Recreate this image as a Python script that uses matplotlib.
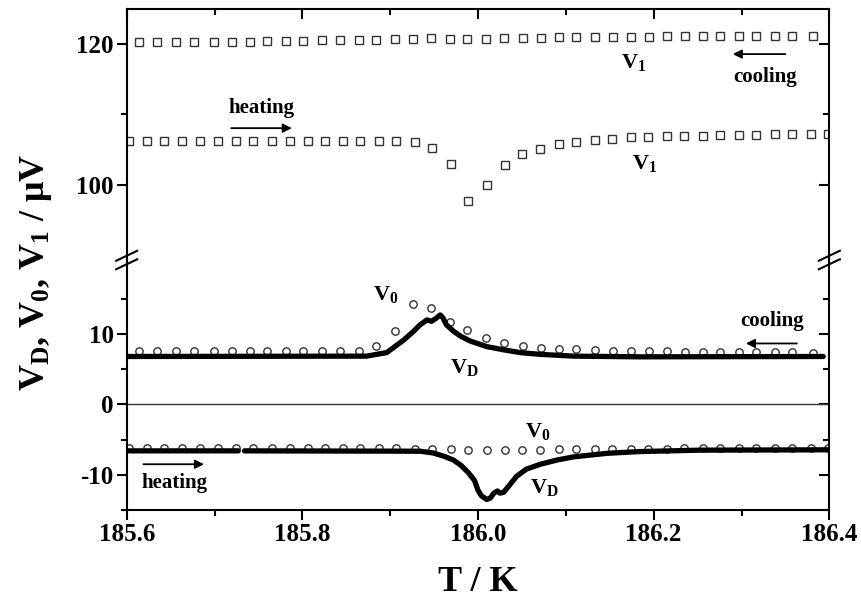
import numpy as np
import matplotlib
matplotlib.use('Agg')
import matplotlib.pyplot as plt
from matplotlib.ticker import FixedLocator

# temperatures of the V1 / V0 points (cooling run and heating run)
T_cool = [185.614, 185.635, 185.656, 185.677, 185.699, 185.720, 185.740, 185.760, 185.781, 185.801,
          185.822, 185.843, 185.864, 185.884, 185.905, 185.926, 185.947, 185.968, 185.988, 186.009,
          186.030, 186.051, 186.072, 186.092, 186.112, 186.133, 186.154, 186.174, 186.195, 186.215,
          186.236, 186.256, 186.276, 186.297, 186.317, 186.338, 186.358, 186.381]
V1_cool = [120.15, 120.15, 120.15, 120.2, 120.25, 120.25, 120.25, 120.3, 120.4, 120.4,
           120.45, 120.45, 120.45, 120.5, 120.6, 120.7, 120.75, 120.7, 120.7, 120.7,
           120.75, 120.8, 120.85, 120.9, 120.9, 120.9, 120.95, 120.95, 120.95, 121.0,
           121.0, 121.0, 121.0, 121.0, 121.0, 121.0, 121.0, 121.0]
V0_cool = [7.6, 7.6, 7.6, 7.6, 7.6, 7.6, 7.6, 7.6, 7.6, 7.6,
           7.6, 7.6, 7.6, 8.3, 10.4, 14.3, 13.7, 11.7, 10.5, 9.45,
           8.7, 8.3, 8.0, 7.9, 7.8, 7.7, 7.65, 7.6, 7.55, 7.55,
           7.5, 7.5, 7.5, 7.5, 7.45, 7.4, 7.4, 7.35]

T_heat = [185.603, 185.623, 185.643, 185.663, 185.683, 185.704, 185.724, 185.744, 185.765, 185.786,
          185.806, 185.826, 185.846, 185.866, 185.887, 185.907, 185.928, 185.948, 185.969, 185.989,
          186.010, 186.031, 186.050, 186.071, 186.092, 186.112, 186.133, 186.153, 186.174, 186.194,
          186.215, 186.235, 186.256, 186.276, 186.297, 186.317, 186.338, 186.358, 186.379, 186.399]
V1_heat = [106.2, 106.2, 106.2, 106.2, 106.2, 106.2, 106.2, 106.2, 106.2, 106.2,
           106.2, 106.2, 106.2, 106.2, 106.2, 106.2, 106.0, 105.2, 102.9, 97.7,
           99.9, 102.8, 104.3, 105.0, 105.8, 106.1, 106.3, 106.5, 106.7, 106.8,
           106.85, 106.9, 106.95, 107.0, 107.0, 107.05, 107.1, 107.1, 107.1, 107.2]
V0_heat = [-6.25, -6.25, -6.25, -6.25, -6.25, -6.25, -6.25, -6.25, -6.25, -6.25,
           -6.25, -6.25, -6.25, -6.25, -6.25, -6.25, -6.3, -6.35, -6.4, -6.45,
           -6.45, -6.45, -6.45, -6.45, -6.4, -6.4, -6.35, -6.35, -6.3, -6.3,
           -6.3, -6.25, -6.25, -6.25, -6.2, -6.2, -6.2, -6.2, -6.2, -6.2]

# V_D traces (dense curves, read at key points)
TD_cool = [185.600, 185.873, 185.896, 185.915, 185.926, 185.934, 185.942, 185.947, 185.952, 185.957,
           185.960, 185.964, 185.972, 185.980, 185.991, 186.010, 186.029, 186.048, 186.071, 186.109,
           186.184, 186.393]
VD_cool = [6.8, 6.85, 7.35, 9.1, 10.3, 11.3, 12.0, 11.8, 12.2, 12.7,
           12.3, 11.3, 10.4, 9.7, 9.0, 8.2, 7.75, 7.35, 7.1, 6.85,
           6.75, 6.8]
TD_heat = [185.600, 185.727, 185.730, 185.734, 185.934, 185.949, 185.962, 185.972, 185.981, 185.989,
           185.996, 186.000, 186.004, 186.010, 186.014, 186.018, 186.022, 186.025, 186.029, 186.035,
           186.044, 186.055, 186.071, 186.090, 186.109, 186.147, 186.184, 186.253, 186.399]
VD_heat = [-6.6, -6.6, np.nan, -6.6, -6.65, -6.9, -7.4, -7.9, -8.7, -9.7,
           -10.8, -12.2, -13.0, -13.5, -13.3, -12.6, -12.3, -12.6, -12.5, -11.6,
           -10.2, -9.2, -8.5, -7.9, -7.45, -6.95, -6.7, -6.5, -6.45]

x_ticks = [185.6, 185.8, 186.0, 186.2, 186.4]
x_ticklabels = ['185.6', '185.8', '186.0', '186.2', '186.4']

plt.rcParams['font.family'] = 'Liberation Serif'
plt.rcParams['font.weight'] = 'bold'
plt.rcParams['axes.labelweight'] = 'bold'
plt.rcParams['mathtext.fontset'] = 'custom'
plt.rcParams['mathtext.rm'] = 'Liberation Serif:bold'
plt.rcParams['mathtext.it'] = 'Liberation Serif:bold'
plt.rcParams['mathtext.bf'] = 'Liberation Serif:bold'
plt.rcParams['axes.unicode_minus'] = False
plt.rcParams['axes.linewidth'] = 1.5

fig = plt.figure(figsize=(8.62, 6.02), dpi=100)
ax_top = fig.add_axes([0.1470, 0.5681, 0.8151, 0.4164])
ax_bot = fig.add_axes([0.1470, 0.1528, 0.8151, 0.4153])

mk = dict(linestyle='none', markerfacecolor='none', markeredgecolor='#333333', markersize=5.3, markeredgewidth=1.0)
ax_top.plot(T_cool, V1_cool, marker='s', **mk)
ax_top.plot(T_heat, V1_heat, marker='s', **mk)
ax_bot.plot(T_cool, V0_cool, marker='o', **mk)
ax_bot.plot(T_heat, V0_heat, marker='o', **mk)
ax_bot.plot(TD_cool, VD_cool, color='black', lw=3.8, solid_capstyle='round', solid_joinstyle='round')
ax_bot.plot(TD_heat, VD_heat, color='black', lw=3.8, solid_capstyle='round', solid_joinstyle='round')
ax_bot.axhline(0, color='#333333', lw=1.0)

ax_top.set_xlim(185.6, 186.4)
ax_bot.set_xlim(185.6, 186.4)
ax_top.set_ylim(89.3, 124.85)
ax_bot.set_ylim(-15, 20.5)

ax_top.spines['bottom'].set_visible(False)
ax_bot.spines['top'].set_visible(False)

for ax in (ax_top, ax_bot):
    ax.xaxis.set_major_locator(FixedLocator(x_ticks))
    ax.xaxis.set_minor_locator(FixedLocator([185.7, 185.9, 186.1, 186.3]))
    ax.tick_params(which='major', length=7.5, width=1.5, labelsize=18, pad=2)
    ax.tick_params(which='minor', length=4, width=1.5)
    ax.tick_params(axis='y', which='both', left=True, right=True, direction='out')

ax_top.yaxis.set_major_locator(FixedLocator([100, 120]))
ax_top.yaxis.set_minor_locator(FixedLocator([110]))
ax_bot.yaxis.set_major_locator(FixedLocator([-10, 0, 10]))
ax_bot.yaxis.set_minor_locator(FixedLocator([-15, -5, 5, 15]))

ax_top.tick_params(axis='x', which='both', bottom=False, labelbottom=False, top=True, direction='in')
ax_bot.tick_params(axis='x', which='both', top=False, bottom=True, direction='out')

# right side ticks point inward, left side ticks point outward
for ax in (ax_top, ax_bot):
    for t in ax.yaxis.get_ticklines(minor=False)[1::2] + ax.yaxis.get_ticklines(minor=True)[1::2]:
        t.set_marker(0)

ax_bot.set_xticklabels(x_ticklabels)
ax_bot.set_xlabel('T / K', fontsize=26, fontweight='bold', labelpad=14)
fig.text(0.042, 1 - 272 / 602, r'V$_\mathrm{D}$, V$_\mathrm{0}$, V$_\mathrm{1}$ / μV',
         rotation=90, fontsize=26, ha='center', va='center')

# break marks on both spines
for x0 in (0.0, 1.0):
    for off in (-0.017, 0.017):
        ax_bot.plot([x0 - 0.015, x0 + 0.015], [1 - 0.02 + off, 1 + 0.02 + off],
                    transform=ax_bot.transAxes, color='black', lw=1.5, clip_on=False)

# annotations
arrow = dict(arrowstyle='-|>', color='black', lw=1.3, mutation_scale=13, shrinkA=0, shrinkB=0)
ax_top.text(185.754, 110.9, 'heating', fontsize=15, ha='center', va='center')
ax_top.annotate('', xy=(185.788, 108.0), xytext=(185.719, 108.0), arrowprops=arrow)
ax_top.text(186.327, 115.2, 'cooling', fontsize=15, ha='center', va='center')
ax_top.annotate('', xy=(186.290, 118.5), xytext=(186.350, 118.5), arrowprops=arrow)
ax_top.text(186.177, 117.3, r'V$_\mathrm{1}$', fontsize=16, ha='center', va='center')
ax_top.text(186.190, 103.0, r'V$_\mathrm{1}$', fontsize=16, ha='center', va='center')

ax_bot.text(185.895, 15.6, r'V$_\mathrm{0}$', fontsize=16, ha='center', va='center')
ax_bot.text(185.985, 5.25, r'V$_\mathrm{D}$', fontsize=16, ha='center', va='center')
ax_bot.text(186.335, 11.8, 'cooling', fontsize=15, ha='center', va='center')
ax_bot.annotate('', xy=(186.305, 8.65), xytext=(186.363, 8.65), arrowprops=arrow)
ax_bot.text(185.655, -11.1, 'heating', fontsize=15, ha='center', va='center')
ax_bot.annotate('', xy=(185.688, -8.5), xytext=(185.619, -8.5), arrowprops=arrow)
ax_bot.text(186.068, -3.8, r'V$_\mathrm{0}$', fontsize=16, ha='center', va='center')
ax_bot.text(186.076, -11.8, r'V$_\mathrm{D}$', fontsize=16, ha='center', va='center')

fig.savefig('out.png', dpi=100)
